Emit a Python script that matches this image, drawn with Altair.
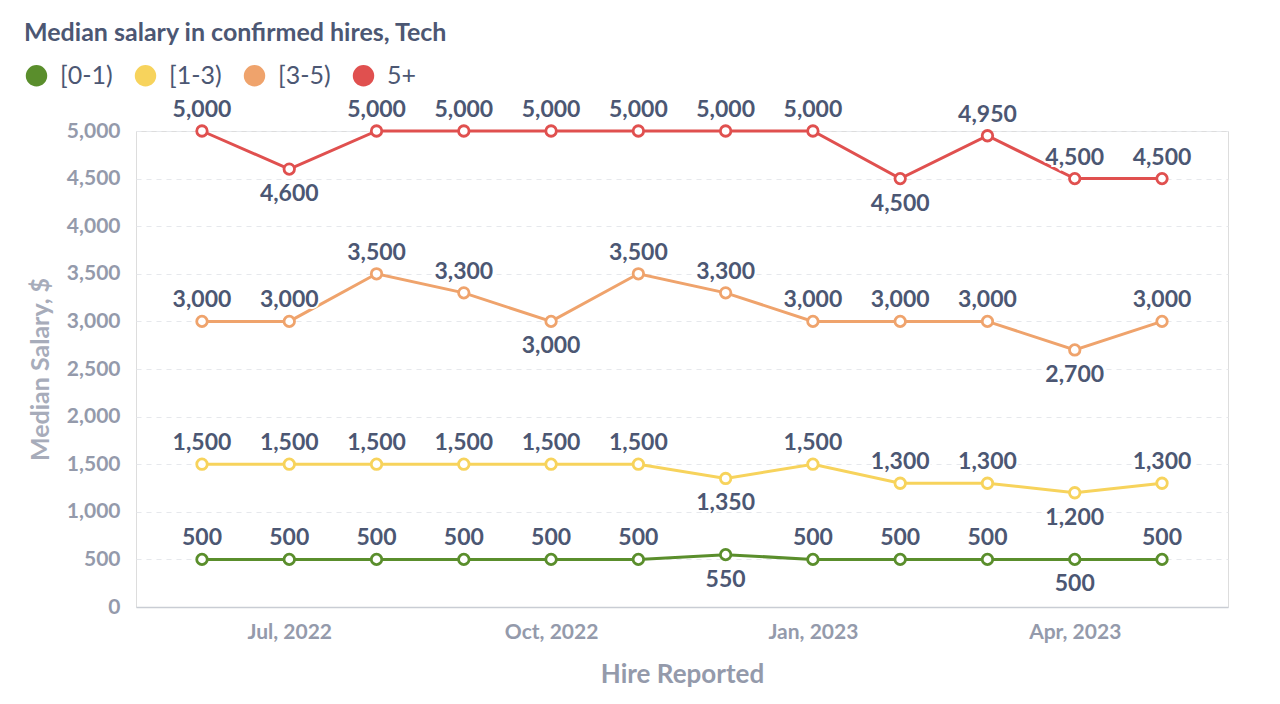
import altair as alt
import pandas as pd

months = ["2022-06-01", "2022-07-01", "2022-08-01", "2022-09-01", "2022-10-01", "2022-11-01",
          "2022-12-01", "2023-01-01", "2023-02-01", "2023-03-01", "2023-04-01", "2023-05-01"]
tick_months = ["2022-07-01", "2022-10-01", "2023-01-01", "2023-04-01"]
series_names = ["[0-1)", "[1-3)", "[3-5)", "5+"]
colors = ["#5A8E2C", "#F7D35C", "#EFA36C", "#E0504F"]

v_0_1 = [500, 500, 500, 500, 500, 500, 550, 500, 500, 500, 500, 500]
v_1_3 = [1500, 1500, 1500, 1500, 1500, 1500, 1350, 1500, 1300, 1300, 1200, 1300]
v_3_5 = [3000, 3000, 3500, 3300, 3000, 3500, 3300, 3000, 3000, 3000, 2700, 3000]
v_5p = [5000, 4600, 5000, 5000, 5000, 5000, 5000, 5000, 4500, 4950, 4500, 4500]

# label placement flags (1 = label under the point)
below_0_1 = [0, 0, 0, 0, 0, 0, 1, 0, 0, 0, 1, 0]
below_1_3 = [0, 0, 0, 0, 0, 0, 1, 0, 0, 0, 1, 0]
below_3_5 = [0, 0, 0, 0, 1, 0, 0, 0, 0, 0, 1, 0]
below_5p = [0, 1, 0, 0, 0, 0, 0, 0, 1, 0, 0, 0]

rows = []
for name, vals, below in zip(series_names,
                             [v_0_1, v_1_3, v_3_5, v_5p],
                             [below_0_1, below_1_3, below_3_5, below_5p]):
    for m, v, b in zip(months, vals, below):
        rows.append({"month": m, "series": name, "value": v, "below": b})
df = pd.DataFrame(rows)

FONT = "Lato"
DARK = "#4C5773"
GREY = "#949AAB"

x_enc = alt.X("month:O",
              scale=alt.Scale(type="point", domain=months, padding=0.756),
              axis=alt.Axis(title="Hire Reported", values=tick_months, labelAngle=0,
                            labelExpr="utcFormat(toDate(datum.value), '%b, %Y')",
                            grid=False, ticks=False, domainColor="#C9CDD4", domainWidth=1.5,
                            labelColor=GREY, labelFont=FONT, labelFontSize=21, labelFontWeight="bold",
                            labelPadding=14, titleColor=GREY, titleFont=FONT, titleFontSize=26,
                            titleFontWeight="bold", titlePadding=19))
y_enc = alt.Y("value:Q",
              scale=alt.Scale(domain=[0, 5000], nice=False),
              axis=alt.Axis(title="Median Salary, $", values=list(range(0, 5001, 500)), format=",.0f",
                            domain=False, ticks=False, grid=True, gridColor="#E6E8EC",
                            gridDash=[5, 5], gridWidth=1.2,
                            labelColor=GREY, labelFont=FONT, labelFontSize=21, labelFontWeight="bold",
                            labelPadding=16, titleColor="#A7ACBA", titleFont=FONT, titleFontSize=25,
                            titleFontWeight="bold", titlePadding=13))

series_scale = alt.Scale(domain=series_names, range=colors)
stroke_enc = alt.Stroke("series:N", scale=series_scale, legend=None)
fill_enc = alt.Fill("series:N", scale=series_scale,
                    legend=alt.Legend(title=None, orient="none", legendX=-112, legendY=-68,
                                      direction="horizontal",
                                      symbolType="circle", symbolSize=460, symbolStrokeWidth=0,
                                      symbolOpacity=1,
                                      labelFont=FONT, labelFontSize=25, labelColor=DARK,
                                      labelOffset=11, columnPadding=20))

base = alt.Chart(df).encode(x=x_enc, y=y_enc)

legend_layer = base.mark_point(shape="circle", filled=True, size=1, opacity=1).encode(fill=fill_enc)
lines = base.mark_line(strokeWidth=3).encode(stroke=stroke_enc)
points = base.mark_point(shape="circle", filled=True, fill="white", size=110, strokeWidth=2.8,
                         opacity=1).encode(stroke=stroke_enc)

LBL = 23
labels_above_halo = base.mark_text(font=FONT, fontSize=LBL, fontWeight="bold", dy=-21,
                                   stroke="white", strokeWidth=4, color="white").encode(
    text=alt.Text("value:Q", format=",")).transform_filter(alt.datum.below == 0)
labels_above = base.mark_text(font=FONT, fontSize=LBL, fontWeight="bold", dy=-21,
                              color=DARK).encode(
    text=alt.Text("value:Q", format=",")).transform_filter(alt.datum.below == 0)
labels_below_halo = base.mark_text(font=FONT, fontSize=LBL, fontWeight="bold", dy=25,
                                   stroke="white", strokeWidth=4, color="white").encode(
    text=alt.Text("value:Q", format=",")).transform_filter(alt.datum.below == 1)
labels_below = base.mark_text(font=FONT, fontSize=LBL, fontWeight="bold", dy=25,
                              color=DARK).encode(
    text=alt.Text("value:Q", format=",")).transform_filter(alt.datum.below == 1)

chart = alt.layer(legend_layer, lines, points, labels_above_halo, labels_below_halo,
                  labels_above, labels_below).properties(
    width=1092, height=476,
    autosize=alt.AutoSizeParams(type="none"),
    padding={"left": 128, "top": 123, "right": 44, "bottom": 89},
    title=alt.TitleParams("Median salary in confirmed hires, Tech", anchor="start", frame="group",
                          dx=-112, font=FONT, fontSize=25, fontWeight="bold", color=DARK, offset=17),
).configure_view(stroke=None).configure(background="white")

chart.save("out.html", embed_options={"renderer": "svg", "actions": False})
